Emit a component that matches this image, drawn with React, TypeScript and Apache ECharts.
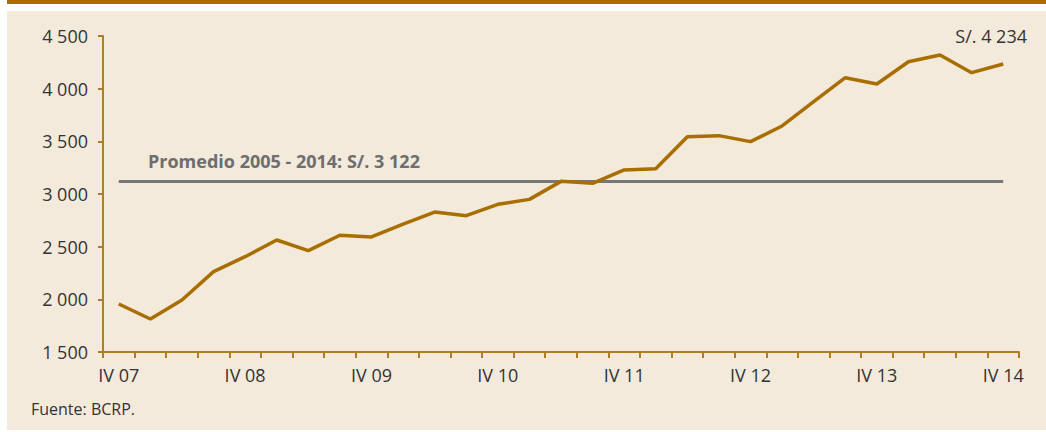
import React, { useEffect, useRef } from "react";
import * as echarts from "echarts";

const QUARTERS: string[] = [
  "IV 07",
  "I 08", "II 08", "III 08", "IV 08",
  "I 09", "II 09", "III 09", "IV 09",
  "I 10", "II 10", "III 10", "IV 10",
  "I 11", "II 11", "III 11", "IV 11",
  "I 12", "II 12", "III 12", "IV 12",
  "I 13", "II 13", "III 13", "IV 13",
  "I 14", "II 14", "III 14", "IV 14",
];

const INGRESO: number[] = [
  1956, 1813, 1994, 2263, 2405, 2563, 2462, 2608, 2592, 2715, 2829, 2794, 2902, 2949,
  3120, 3101, 3228, 3240, 3544, 3554, 3497, 3646, 3877, 4104, 4044, 4256, 4320, 4152, 4234,
];

const PROMEDIO = 3122;
const PROMEDIO_LABEL = "Promedio 2005 - 2014: S/. 3 122";
const LAST_LABEL = "S/. 4 234";
const SOURCE = "Fuente: BCRP.";

const fmt = (v: number) => {
  const s = String(Math.round(v));
  return s.replace(/\B(?=(\d{3})+(?!\d))/g, " ");
};

export default function App() {
  const ref = useRef<HTMLDivElement>(null);
  useEffect(() => {
    document.body.style.margin = "0";
    if (!ref.current) return;
    const chart = echarts.init(ref.current, undefined, { renderer: "svg" });
    const font = "'Open Sans', 'Noto Sans', sans-serif";
    chart.setOption({
      animation: false,
      backgroundColor: "#ffffff",
      textStyle: { fontFamily: font },
      grid: { left: 103, right: 27, top: 36, bottom: 80, containLabel: false },
      graphic: [
        { type: "rect", z: -10, zlevel: 0, silent: true, shape: { x: 7, y: 0, width: 1039, height: 4 }, style: { fill: "#A86E00" } },
        { type: "rect", z: -10, zlevel: 0, silent: true, shape: { x: 7, y: 11, width: 1039, height: 419 }, style: { fill: "#F3EADC" } },
        {
          type: "text", x: 148, y: 161, z: 10,
          style: { text: PROMEDIO_LABEL, font: `bold 18px ${font}`, fill: "#6E6E6E", textVerticalAlign: "middle", verticalAlign: "middle" },
        },
        {
          type: "text", x: 1027, y: 36, z: 10,
          style: { text: LAST_LABEL, font: `18px ${font}`, fill: "#333333", textAlign: "right", align: "right", verticalAlign: "middle" },
        },
        {
          type: "text", x: 31, y: 409, z: 10,
          style: { text: SOURCE, font: `16px ${font}`, fill: "#333333", verticalAlign: "middle" },
        },
      ],
      xAxis: {
        type: "category",
        data: QUARTERS,
        boundaryGap: true,
        axisLine: { lineStyle: { color: "#B07D1F", width: 2 } },
        axisTick: { show: true, interval: 0, length: 6, lineStyle: { color: "#B07D1F", width: 2 } },
        axisLabel: { interval: 3, margin: 14, color: "#333333", fontSize: 18, fontFamily: font },
        splitLine: { show: false },
      },
      yAxis: {
        type: "value",
        min: 1500,
        max: 4500,
        interval: 500,
        axisLine: { show: true, lineStyle: { color: "#B07D1F", width: 2 } },
        axisTick: { show: true, length: 5, lineStyle: { color: "#B07D1F", width: 2 } },
        axisLabel: { margin: 15, color: "#333333", fontSize: 18, fontFamily: font, formatter: fmt },
        splitLine: { show: false },
      },
      series: [
        {
          type: "line",
          data: INGRESO,
          symbol: "none",
          lineStyle: { color: "#A86E00", width: 3.5 },
          z: 3,
          markLine: {
            silent: true,
            symbol: ["none", "none"],
            label: { show: false },
            lineStyle: { color: "#777777", width: 3, type: "solid" },
            z: 2,
            data: [[{ coord: [0, PROMEDIO] }, { coord: [QUARTERS.length - 1, PROMEDIO] }]],
          },
        },
      ],
    });
    return () => chart.dispose();
  }, []);
  return <div ref={ref} style={{ width: 1046, height: 432 }} />;
}
